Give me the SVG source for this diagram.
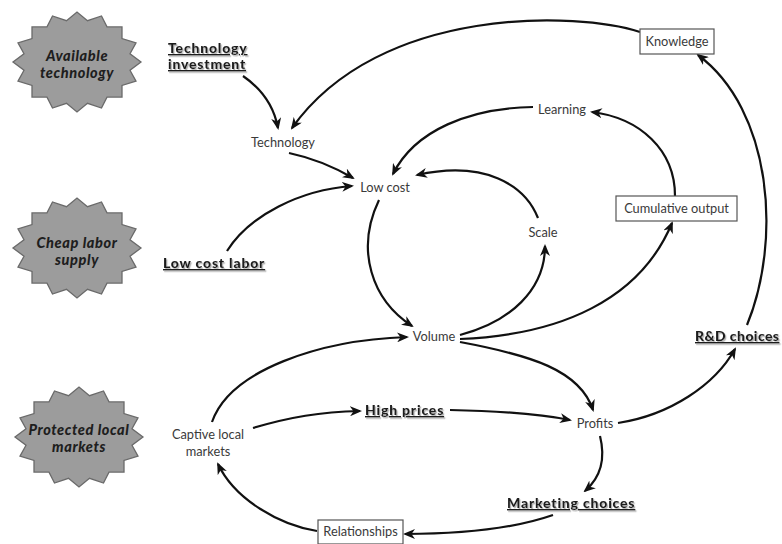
<svg xmlns="http://www.w3.org/2000/svg" width="782" height="544" viewBox="0 0 782 544">
  <defs>
    <style>
      .lbl { font-family: Lato, "Liberation Sans", sans-serif; font-size: 12.8px; fill: #3a3a3a; text-anchor: middle; }
      .key { font-family: Lato, "Liberation Sans", sans-serif; font-size: 14px; letter-spacing: 0.8px; font-weight: 900; fill: #1e1e1e; text-decoration: underline; filter: url(#shade); }
      .ext { font-family: Lato, "Liberation Sans", sans-serif; font-size: 14.5px; letter-spacing: 0.6px; font-weight: 900; font-style: italic; fill: #1e1e1e; text-anchor: middle; }
      .box { fill: #ffffff; stroke: #555555; stroke-width: 1.2; }
      .star { fill: #9c9c9c; stroke: #6a6a6a; stroke-width: 1.3; }
      .link { fill: none; stroke: #111111; stroke-width: 2.2; marker-end: url(#head); }
    </style>
    <filter id="shade" x="-5%" y="-20%" width="115%" height="160%">
      <feDropShadow dx="1.2" dy="1.4" stdDeviation="0.6" flood-color="#9a9a9a" flood-opacity="0.8"/>
    </filter>
    <marker id="head" viewBox="0 0 12 10" refX="10" refY="5" markerWidth="12" markerHeight="10" markerUnits="userSpaceOnUse" orient="auto">
      <path d="M0,0 L12,5 L0,10 L3.5,5 Z" fill="#111111"/>
    </marker>
    <polygon id="burst" vector-effect="non-scaling-stroke" points="64,0 53,10.5 59,24.5 45,30 45,45 30,45 24.5,59 10.5,53 0,64 -10.5,53 -24.5,59 -30,45 -45,45 -45,30 -59,24.5 -53,10.5 -64,0 -53,-10.5 -59,-24.5 -45,-30 -45,-45 -30,-45 -24.5,-59 -10.5,-53 0,-64 10.5,-53 24.5,-59 30,-45 45,-45 45,-30 59,-24.5 53,-10.5"/>
  </defs>

  <rect width="782" height="544" fill="#ffffff"/>

  <!-- connectors -->
  <g id="connectors">
    <path class="link" d="M243,76 Q272,96 278,128"/>
    <path class="link" d="M640,32 C580,12 380,4 292,128"/>
    <path class="link" d="M289,153 Q322,160 353,178"/>
    <path class="link" d="M227,251 C250,215 300,190 352,186"/>
    <path class="link" d="M533,107 C470,108 415,130 393,174"/>
    <path class="link" d="M538,218 C525,185 485,160 417,175"/>
    <path class="link" d="M675,196 C675,150 640,118 592,112"/>
    <path class="link" d="M747,325 C782,240 772,110 698,55"/>
    <path class="link" d="M379,200 C355,250 372,300 412,326"/>
    <path class="link" d="M460,335 C510,322 545,290 545,246"/>
    <path class="link" d="M460,339 C560,335 640,300 672,223"/>
    <path class="link" d="M460,342 C530,355 580,370 593,410"/>
    <path class="link" d="M212,422 C230,370 320,340 407,337"/>
    <path class="link" d="M253,428 C290,417 320,412 360,411"/>
    <path class="link" d="M450,410 C500,411 540,414 570,420"/>
    <path class="link" d="M618,423 C670,415 715,385 735,349"/>
    <path class="link" d="M600,436 C606,460 600,478 585,491"/>
    <path class="link" d="M553,515 C510,530 460,534 405,534"/>
    <path class="link" d="M317,531 C280,525 235,500 218,464"/>
  </g>

  <!-- external conditions -->
  <g id="available-technology">
    <use href="#burst" class="star" transform="translate(77,62) scale(1,0.78)"/>
    <text class="ext" x="77" y="61">Available</text>
    <text class="ext" x="77" y="78">technology</text>
  </g>
  <g id="cheap-labor-supply">
    <use href="#burst" class="star" transform="translate(77,248) scale(1,0.78)"/>
    <text class="ext" x="77" y="248">Cheap labor</text>
    <text class="ext" x="77" y="265">supply</text>
  </g>
  <g id="protected-local-markets">
    <use href="#burst" class="star" transform="translate(79,437) scale(1,0.78)"/>
    <text class="ext" x="79" y="435">Protected local</text>
    <text class="ext" x="79" y="452">markets</text>
  </g>

  <!-- levers -->
  <g id="technology-investment">
    <text class="key" x="168" y="53">Technology</text>
    <text class="key" x="168" y="69">investment</text>
  </g>
  <g id="low-cost-labor">
    <text class="key" x="163" y="268">Low cost labor</text>
  </g>
  <g id="high-prices">
    <text class="key" x="365" y="415">High prices</text>
  </g>
  <g id="rd-choices">
    <text class="key" x="695" y="341" style="letter-spacing:0.4px">R&amp;D choices</text>
  </g>
  <g id="marketing-choices">
    <text class="key" x="507" y="508">Marketing choices</text>
  </g>

  <!-- variables -->
  <g id="technology">
    <text class="lbl" x="283" y="147">Technology</text>
  </g>
  <g id="low-cost">
    <text class="lbl" x="385" y="192">Low cost</text>
  </g>
  <g id="learning">
    <text class="lbl" x="562" y="114">Learning</text>
  </g>
  <g id="knowledge">
    <rect class="box" x="640" y="29" width="74" height="25"/>
    <text class="lbl" x="677" y="46">Knowledge</text>
  </g>
  <g id="cumulative-output">
    <rect class="box" x="616" y="196" width="121" height="25"/>
    <text class="lbl" x="676.5" y="213">Cumulative output</text>
  </g>
  <g id="scale">
    <text class="lbl" x="543" y="237">Scale</text>
  </g>
  <g id="volume">
    <text class="lbl" x="434" y="341">Volume</text>
  </g>
  <g id="captive-local-markets">
    <text class="lbl" x="208" y="439">Captive local</text>
    <text class="lbl" x="208" y="456">markets</text>
  </g>
  <g id="profits">
    <text class="lbl" x="595" y="428">Profits</text>
  </g>
  <g id="relationships">
    <rect class="box" x="318" y="520" width="85" height="24"/>
    <text class="lbl" x="360.5" y="536">Relationships</text>
  </g>
</svg>
